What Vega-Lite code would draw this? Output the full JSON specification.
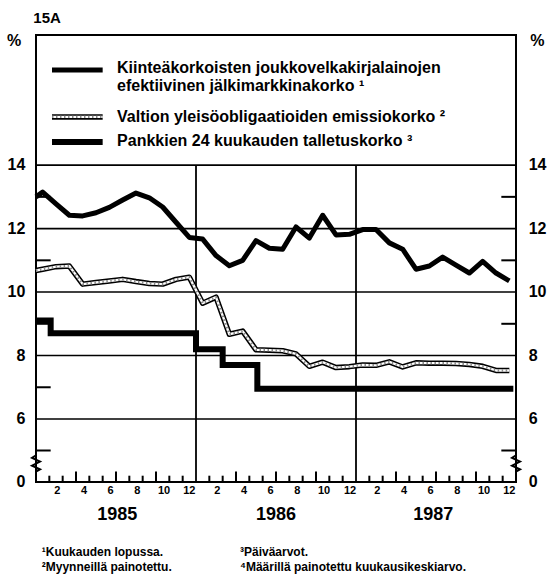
{
  "$schema": "https://vega.github.io/schema/vega-lite/v6.json",
  "width": 480,
  "height": 447,
  "autosize": {"type": "none"},
  "padding": {"left": 36, "top": 35, "right": 32, "bottom": 95},
  "background": "white",
  "config": {
    "view": {"stroke": "black", "strokeWidth": 2},
    "font": "Liberation Sans",
    "text": {"font": "Liberation Sans", "fontWeight": "bold", "color": "black"}
  },
  "datasets": {
    "series": [
      {"s": "A", "t": 0, "v": 13.0}, {"s": "A", "t": 0.5, "v": 13.15}, {"s": "A", "t": 1.5, "v": 12.78}, {"s": "A", "t": 2.5, "v": 12.42}, {"s": "A", "t": 3.5, "v": 12.4}, {"s": "A", "t": 4.5, "v": 12.5}, {"s": "A", "t": 5.5, "v": 12.67}, {"s": "A", "t": 6.5, "v": 12.9}, {"s": "A", "t": 7.5, "v": 13.12}, {"s": "A", "t": 8.5, "v": 12.97}, {"s": "A", "t": 9.5, "v": 12.68}, {"s": "A", "t": 10.5, "v": 12.2}, {"s": "A", "t": 11.5, "v": 11.72},
      {"s": "A", "t": 12.5, "v": 11.67}, {"s": "A", "t": 13.5, "v": 11.15}, {"s": "A", "t": 14.5, "v": 10.83}, {"s": "A", "t": 15.5, "v": 11.0}, {"s": "A", "t": 16.5, "v": 11.62}, {"s": "A", "t": 17.5, "v": 11.38}, {"s": "A", "t": 18.5, "v": 11.35}, {"s": "A", "t": 19.5, "v": 12.05}, {"s": "A", "t": 20.5, "v": 11.7}, {"s": "A", "t": 21.5, "v": 12.42}, {"s": "A", "t": 22.5, "v": 11.8}, {"s": "A", "t": 23.5, "v": 11.82},
      {"s": "A", "t": 24.5, "v": 11.97}, {"s": "A", "t": 25.5, "v": 11.97}, {"s": "A", "t": 26.5, "v": 11.55}, {"s": "A", "t": 27.5, "v": 11.35}, {"s": "A", "t": 28.5, "v": 10.72}, {"s": "A", "t": 29.5, "v": 10.82}, {"s": "A", "t": 30.5, "v": 11.1}, {"s": "A", "t": 31.5, "v": 10.85}, {"s": "A", "t": 32.5, "v": 10.6}, {"s": "A", "t": 33.5, "v": 10.97}, {"s": "A", "t": 34.5, "v": 10.6}, {"s": "A", "t": 35.5, "v": 10.35},
      {"s": "B", "t": 0, "v": 10.68}, {"s": "B", "t": 0.5, "v": 10.72}, {"s": "B", "t": 1.5, "v": 10.8}, {"s": "B", "t": 2.5, "v": 10.82}, {"s": "B", "t": 3.5, "v": 10.25}, {"s": "B", "t": 4.5, "v": 10.3}, {"s": "B", "t": 5.5, "v": 10.35}, {"s": "B", "t": 6.5, "v": 10.4}, {"s": "B", "t": 7.5, "v": 10.33}, {"s": "B", "t": 8.5, "v": 10.27}, {"s": "B", "t": 9.5, "v": 10.25}, {"s": "B", "t": 10.5, "v": 10.4}, {"s": "B", "t": 11.5, "v": 10.47},
      {"s": "B", "t": 12.5, "v": 9.65}, {"s": "B", "t": 13.5, "v": 9.84}, {"s": "B", "t": 14.5, "v": 8.67}, {"s": "B", "t": 15.5, "v": 8.77}, {"s": "B", "t": 16.5, "v": 8.18}, {"s": "B", "t": 17.5, "v": 8.17}, {"s": "B", "t": 18.5, "v": 8.15}, {"s": "B", "t": 19.5, "v": 8.05}, {"s": "B", "t": 20.5, "v": 7.66}, {"s": "B", "t": 21.5, "v": 7.79}, {"s": "B", "t": 22.5, "v": 7.62}, {"s": "B", "t": 23.5, "v": 7.65},
      {"s": "B", "t": 24.5, "v": 7.7}, {"s": "B", "t": 25.5, "v": 7.69}, {"s": "B", "t": 26.5, "v": 7.8}, {"s": "B", "t": 27.5, "v": 7.64}, {"s": "B", "t": 28.5, "v": 7.77}, {"s": "B", "t": 29.5, "v": 7.76}, {"s": "B", "t": 30.5, "v": 7.76}, {"s": "B", "t": 31.5, "v": 7.75}, {"s": "B", "t": 32.5, "v": 7.72}, {"s": "B", "t": 33.5, "v": 7.66}, {"s": "B", "t": 34.5, "v": 7.53}, {"s": "B", "t": 35.5, "v": 7.53},
      {"s": "C", "t": 0, "v": 9.1}, {"s": "C", "t": 1.1, "v": 8.7}, {"s": "C", "t": 12, "v": 8.2}, {"s": "C", "t": 14, "v": 7.7}, {"s": "C", "t": 16.6, "v": 6.95}, {"s": "C", "t": 35.8, "v": 6.95},
      {"s": "LA", "t": 1.2, "v": 17.0}, {"s": "LA", "t": 5.0, "v": 17.0},
      {"s": "LB", "t": 1.2, "v": 15.52}, {"s": "LB", "t": 5.0, "v": 15.52},
      {"s": "LC", "t": 1.2, "v": 14.73}, {"s": "LC", "t": 5.0, "v": 14.73}
    ],
    "years": [{"t": 12}, {"t": 24}],
    "grid": [{"v": 6}, {"v": 8}, {"v": 10}, {"v": 12}, {"v": 14}],
    "yticksLeft": [{"v": 3}, {"v": 7}, {"v": 9}, {"v": 11}, {"v": 13}],
    "yticksRight": [{"v": 3}, {"v": 9}, {"v": 11}, {"v": 13}],
    "xticksShort": [{"t": 1}, {"t": 2}, {"t": 4}, {"t": 5}, {"t": 7}, {"t": 8}, {"t": 10}, {"t": 11}, {"t": 13}, {"t": 14}, {"t": 16}, {"t": 17}, {"t": 19}, {"t": 20}, {"t": 22}, {"t": 23}, {"t": 25}, {"t": 26}, {"t": 28}, {"t": 29}, {"t": 31}, {"t": 32}, {"t": 34}, {"t": 35}],
    "xticksLong": [{"t": 3}, {"t": 6}, {"t": 9}, {"t": 15}, {"t": 18}, {"t": 21}, {"t": 27}, {"t": 30}, {"t": 33}],
    "brk": [
      {"side": "L", "i": 0, "t": 0, "v": 2.55}, {"side": "L", "i": 1, "t": -0.3, "v": 2.3}, {"side": "L", "i": 2, "t": 0.3, "v": 1.95}, {"side": "L", "i": 3, "t": -0.3, "v": 1.55}, {"side": "L", "i": 4, "t": 0.3, "v": 1.2}, {"side": "L", "i": 5, "t": 0, "v": 1.0},
      {"side": "R", "i": 0, "t": 36, "v": 2.55}, {"side": "R", "i": 1, "t": 35.7, "v": 2.3}, {"side": "R", "i": 2, "t": 36.3, "v": 1.95}, {"side": "R", "i": 3, "t": 35.7, "v": 1.55}, {"side": "R", "i": 4, "t": 36.3, "v": 1.2}, {"side": "R", "i": 5, "t": 36, "v": 1.0}
    ],
    "months": [
      {"t": 1.6, "label": "2"}, {"t": 3.6, "label": "4"}, {"t": 5.6, "label": "6"}, {"t": 7.6, "label": "8"}, {"t": 9.6, "label": "10"}, {"t": 11.5, "label": "12"},
      {"t": 13.6, "label": "2"}, {"t": 15.6, "label": "4"}, {"t": 17.6, "label": "6"}, {"t": 19.6, "label": "8"}, {"t": 21.6, "label": "10"}, {"t": 23.55, "label": "12"},
      {"t": 25.6, "label": "2"}, {"t": 27.6, "label": "4"}, {"t": 29.6, "label": "6"}, {"t": 31.6, "label": "8"}, {"t": 33.6, "label": "10"}, {"t": 35.5, "label": "12"}
    ],
    "ylabels": [{"v": 0, "label": "0"}, {"v": 6, "label": "6"}, {"v": 8, "label": "8"}, {"v": 10, "label": "10"}, {"v": 12, "label": "12"}, {"v": 14, "label": "14"}],
    "texts": [
      {"kind": "legend", "t": 6.08, "v": 17.06, "label": "Kiinteäkorkoisten joukkovelkakirjalainojen"},
      {"kind": "legend", "t": 6.08, "v": 16.5, "label": "efektiivinen jälkimarkkinakorko ¹"},
      {"kind": "legend", "t": 6.08, "v": 15.52, "label": "Valtion yleisöobligaatioiden emissiokorko ²"},
      {"kind": "legend", "t": 6.08, "v": 14.76, "label": "Pankkien 24 kuukauden talletuskorko ³"},
      {"kind": "tag", "t": -0.2, "v": 18.65, "label": "15A"},
      {"kind": "pct", "t": -1.65, "v": 17.9, "label": "%"},
      {"kind": "pct", "t": 37.6, "v": 17.9, "label": "%"},
      {"kind": "year", "t": 6.1, "v": -3.14, "label": "1985"},
      {"kind": "year", "t": 18.0, "v": -3.14, "label": "1986"},
      {"kind": "year", "t": 29.8, "v": -3.14, "label": "1987"},
      {"kind": "note", "t": 0.43, "v": -6.64, "label": "¹Kuukauden lopussa."},
      {"kind": "note", "t": 0.43, "v": -8.07, "label": "²Myynneillä painotettu."},
      {"kind": "note", "t": 15.3, "v": -6.64, "label": "³Päiväarvot."},
      {"kind": "note", "t": 15.3, "v": -8.07, "label": "⁴Määrillä painotettu kuukausikeskiarvo."}
    ]
  },
  "layer": [
    {
      "data": {"name": "grid"},
      "mark": {"type": "rule", "color": "black", "strokeWidth": 1.6},
      "encoding": {
        "x": {"datum": 0, "type": "quantitative", "scale": {"domain": [0, 36], "nice": false, "zero": false}, "axis": null},
        "x2": {"datum": 36},
        "y": {"field": "v", "type": "quantitative", "scale": {"domain": [0, 6, 18.1], "range": [447, 384, 0], "nice": false, "zero": false}, "axis": null}
      }
    },
    {
      "data": {"name": "years"},
      "mark": {"type": "rule", "color": "black", "strokeWidth": 1.8},
      "encoding": {
        "x": {"field": "t", "type": "quantitative", "scale": {"domain": [0, 36], "nice": false, "zero": false}, "axis": null},
        "y": {"datum": 0, "type": "quantitative", "scale": {"domain": [0, 6, 18.1], "range": [447, 384, 0], "nice": false, "zero": false}, "axis": null},
        "y2": {"datum": 14}
      }
    },
    {
      "data": {"name": "xticksShort"},
      "mark": {"type": "rule", "color": "black", "strokeWidth": 2},
      "encoding": {
        "x": {"field": "t", "type": "quantitative", "scale": {"domain": [0, 36], "nice": false, "zero": false}, "axis": null},
        "y": {"datum": 0, "type": "quantitative", "scale": {"domain": [0, 6, 18.1], "range": [447, 384, 0], "nice": false, "zero": false}, "axis": null},
        "y2": {"datum": 0.6}
      }
    },
    {
      "data": {"name": "xticksLong"},
      "mark": {"type": "rule", "color": "black", "strokeWidth": 2},
      "encoding": {
        "x": {"field": "t", "type": "quantitative", "scale": {"domain": [0, 36], "nice": false, "zero": false}, "axis": null},
        "y": {"datum": 0, "type": "quantitative", "scale": {"domain": [0, 6, 18.1], "range": [447, 384, 0], "nice": false, "zero": false}, "axis": null},
        "y2": {"datum": 1.0}
      }
    },
    {
      "data": {"name": "yticksLeft"},
      "mark": {"type": "rule", "color": "black", "strokeWidth": 2},
      "encoding": {
        "x": {"datum": 0, "type": "quantitative", "scale": {"domain": [0, 36], "nice": false, "zero": false}, "axis": null},
        "x2": {"datum": 1.1},
        "y": {"field": "v", "type": "quantitative", "scale": {"domain": [0, 6, 18.1], "range": [447, 384, 0], "nice": false, "zero": false}, "axis": null}
      }
    },
    {
      "data": {"name": "yticksRight"},
      "mark": {"type": "rule", "color": "black", "strokeWidth": 2},
      "encoding": {
        "x": {"datum": 34.9, "type": "quantitative", "scale": {"domain": [0, 36], "nice": false, "zero": false}, "axis": null},
        "x2": {"datum": 36},
        "y": {"field": "v", "type": "quantitative", "scale": {"domain": [0, 6, 18.1], "range": [447, 384, 0], "nice": false, "zero": false}, "axis": null}
      }
    },
    {
      "data": {"name": "brk"},
      "mark": {"type": "line", "color": "black", "strokeWidth": 2, "clip": false},
      "encoding": {
        "x": {"field": "t", "type": "quantitative", "scale": {"domain": [0, 36], "nice": false, "zero": false}, "axis": null},
        "y": {"field": "v", "type": "quantitative", "scale": {"domain": [0, 6, 18.1], "range": [447, 384, 0], "nice": false, "zero": false}, "axis": null},
        "detail": {"field": "side"},
        "order": {"field": "i"}
      }
    },
    {
      "data": {"name": "series"},
      "transform": [{"filter": "datum.s == 'A' || datum.s == 'LA'"}],
      "mark": {"type": "line", "color": "black", "strokeWidth": 5, "strokeJoin": "round"},
      "encoding": {
        "x": {"field": "t", "type": "quantitative", "scale": {"domain": [0, 36], "nice": false, "zero": false}, "axis": null},
        "y": {"field": "v", "type": "quantitative", "scale": {"domain": [0, 6, 18.1], "range": [447, 384, 0], "nice": false, "zero": false}, "axis": null},
        "detail": {"field": "s"}
      }
    },
    {
      "data": {"name": "series"},
      "transform": [{"filter": "datum.s == 'B' || datum.s == 'LB'"}],
      "mark": {"type": "line", "color": "black", "strokeWidth": 5.5, "strokeJoin": "round"},
      "encoding": {
        "x": {"field": "t", "type": "quantitative", "scale": {"domain": [0, 36], "nice": false, "zero": false}, "axis": null},
        "y": {"field": "v", "type": "quantitative", "scale": {"domain": [0, 6, 18.1], "range": [447, 384, 0], "nice": false, "zero": false}, "axis": null},
        "detail": {"field": "s"}
      }
    },
    {
      "data": {"name": "series"},
      "transform": [{"filter": "datum.s == 'B' || datum.s == 'LB'"}],
      "mark": {"type": "line", "color": "white", "strokeWidth": 2.4, "strokeJoin": "round"},
      "encoding": {
        "x": {"field": "t", "type": "quantitative", "scale": {"domain": [0, 36], "nice": false, "zero": false}, "axis": null},
        "y": {"field": "v", "type": "quantitative", "scale": {"domain": [0, 6, 18.1], "range": [447, 384, 0], "nice": false, "zero": false}, "axis": null},
        "detail": {"field": "s"}
      }
    },
    {
      "data": {"name": "series"},
      "transform": [{"filter": "datum.s == 'B' || datum.s == 'LB'"}],
      "mark": {"type": "line", "color": "#888888", "strokeWidth": 2.4, "strokeDash": [1.5, 2.5]},
      "encoding": {
        "x": {"field": "t", "type": "quantitative", "scale": {"domain": [0, 36], "nice": false, "zero": false}, "axis": null},
        "y": {"field": "v", "type": "quantitative", "scale": {"domain": [0, 6, 18.1], "range": [447, 384, 0], "nice": false, "zero": false}, "axis": null},
        "detail": {"field": "s"}
      }
    },
    {
      "data": {"name": "series"},
      "transform": [{"filter": "datum.s == 'C' || datum.s == 'LC'"}],
      "mark": {"type": "line", "color": "black", "strokeWidth": 6, "interpolate": "step-after", "strokeJoin": "miter"},
      "encoding": {
        "x": {"field": "t", "type": "quantitative", "scale": {"domain": [0, 36], "nice": false, "zero": false}, "axis": null},
        "y": {"field": "v", "type": "quantitative", "scale": {"domain": [0, 6, 18.1], "range": [447, 384, 0], "nice": false, "zero": false}, "axis": null},
        "detail": {"field": "s"}
      }
    },
    {
      "data": {"name": "ylabels"},
      "mark": {"type": "text", "align": "right", "baseline": "middle", "fontSize": 16, "fontWeight": "bold", "font": "Liberation Sans"},
      "encoding": {
        "x": {"datum": -0.8, "type": "quantitative", "scale": {"domain": [0, 36], "nice": false, "zero": false}, "axis": null},
        "y": {"field": "v", "type": "quantitative", "scale": {"domain": [0, 6, 18.1], "range": [447, 384, 0], "nice": false, "zero": false}, "axis": null},
        "text": {"field": "label"}
      }
    },
    {
      "data": {"name": "ylabels"},
      "mark": {"type": "text", "align": "left", "baseline": "middle", "fontSize": 16, "fontWeight": "bold", "font": "Liberation Sans"},
      "encoding": {
        "x": {"datum": 36.95, "type": "quantitative", "scale": {"domain": [0, 36], "nice": false, "zero": false}, "axis": null},
        "y": {"field": "v", "type": "quantitative", "scale": {"domain": [0, 6, 18.1], "range": [447, 384, 0], "nice": false, "zero": false}, "axis": null},
        "text": {"field": "label"}
      }
    },
    {
      "data": {"name": "months"},
      "mark": {"type": "text", "align": "center", "baseline": "middle", "fontSize": 11, "fontWeight": "bold", "font": "Liberation Sans"},
      "encoding": {
        "x": {"field": "t", "type": "quantitative", "scale": {"domain": [0, 36], "nice": false, "zero": false}, "axis": null},
        "y": {"datum": -0.9, "type": "quantitative", "scale": {"domain": [0, 6, 18.1], "range": [447, 384, 0], "nice": false, "zero": false}, "axis": null},
        "text": {"field": "label"}
      }
    },
    {
      "data": {"name": "texts"},
      "transform": [{"filter": "datum.kind == 'legend'"}],
      "mark": {"type": "text", "align": "left", "baseline": "middle", "fontSize": 16, "fontWeight": "bold", "font": "Liberation Sans"},
      "encoding": {
        "x": {"field": "t", "type": "quantitative", "scale": {"domain": [0, 36], "nice": false, "zero": false}, "axis": null},
        "y": {"field": "v", "type": "quantitative", "scale": {"domain": [0, 6, 18.1], "range": [447, 384, 0], "nice": false, "zero": false}, "axis": null},
        "text": {"field": "label"}
      }
    },
    {
      "data": {"name": "texts"},
      "transform": [{"filter": "datum.kind == 'tag'"}],
      "mark": {"type": "text", "align": "left", "baseline": "middle", "fontSize": 15, "fontWeight": "bold", "font": "Liberation Sans"},
      "encoding": {
        "x": {"field": "t", "type": "quantitative", "scale": {"domain": [0, 36], "nice": false, "zero": false}, "axis": null},
        "y": {"field": "v", "type": "quantitative", "scale": {"domain": [0, 6, 18.1], "range": [447, 384, 0], "nice": false, "zero": false}, "axis": null},
        "text": {"field": "label"}
      }
    },
    {
      "data": {"name": "texts"},
      "transform": [{"filter": "datum.kind == 'pct'"}],
      "mark": {"type": "text", "align": "center", "baseline": "middle", "fontSize": 16, "fontWeight": "bold", "font": "Liberation Sans"},
      "encoding": {
        "x": {"field": "t", "type": "quantitative", "scale": {"domain": [0, 36], "nice": false, "zero": false}, "axis": null},
        "y": {"field": "v", "type": "quantitative", "scale": {"domain": [0, 6, 18.1], "range": [447, 384, 0], "nice": false, "zero": false}, "axis": null},
        "text": {"field": "label"}
      }
    },
    {
      "data": {"name": "texts"},
      "transform": [{"filter": "datum.kind == 'year'"}],
      "mark": {"type": "text", "align": "center", "baseline": "middle", "fontSize": 18, "fontWeight": "bold", "font": "Liberation Sans"},
      "encoding": {
        "x": {"field": "t", "type": "quantitative", "scale": {"domain": [0, 36], "nice": false, "zero": false}, "axis": null},
        "y": {"field": "v", "type": "quantitative", "scale": {"domain": [0, 6, 18.1], "range": [447, 384, 0], "nice": false, "zero": false}, "axis": null},
        "text": {"field": "label"}
      }
    },
    {
      "data": {"name": "texts"},
      "transform": [{"filter": "datum.kind == 'note'"}],
      "mark": {"type": "text", "align": "left", "baseline": "middle", "fontSize": 12, "fontWeight": "bold", "font": "Liberation Sans"},
      "encoding": {
        "x": {"field": "t", "type": "quantitative", "scale": {"domain": [0, 36], "nice": false, "zero": false}, "axis": null},
        "y": {"field": "v", "type": "quantitative", "scale": {"domain": [0, 6, 18.1], "range": [447, 384, 0], "nice": false, "zero": false}, "axis": null},
        "text": {"field": "label"}
      }
    }
  ]
}
